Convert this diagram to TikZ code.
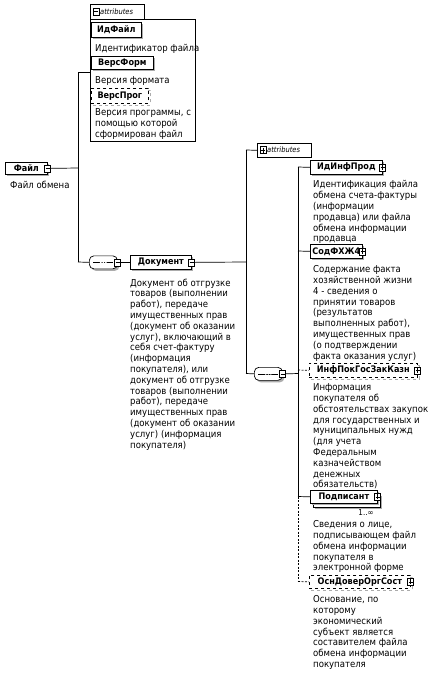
\documentclass[tikz,border=0pt]{standalone}
\usepackage{fontspec}
\setmainfont{DejaVu Sans Condensed}
\usetikzlibrary{shadows,shapes.misc}
\tikzset{
  shad/.style={drop shadow={shadow xshift=2pt, shadow yshift=-2pt, fill=gray!65, opacity=1}},
  dshad/.style={general shadow={shadow xshift=2pt, shadow yshift=-2pt, draw=gray!65, line width=1.6pt, dashed}},
  elbox/.style={draw, fill=white, inner sep=0pt, anchor=north west, line width=0.7pt,
    font=\fontsize{9}{10.8}\selectfont\bfseries, shad},
  optbox/.style={draw, dashed, fill=white, inner sep=0pt, anchor=north west, line width=0.7pt,
    font=\fontsize{9}{10.8}\selectfont\bfseries, dshad},
  desc/.style={anchor=north west, inner sep=0pt, align=left, font=\fontsize{9.5}{10.8}\selectfont},
  icon/.style={draw, fill=white, minimum width=6pt, minimum height=7pt, inner sep=0pt, line width=0.5pt},
  minusicon/.style={icon, path picture={\draw[line width=0.5pt]
     ([xshift=1pt]path picture bounding box.west) -- ([xshift=-1pt]path picture bounding box.east);}},
  plusicon/.style={icon, path picture={\draw[line width=0.5pt]
     ([xshift=1pt]path picture bounding box.west) -- ([xshift=-1pt]path picture bounding box.east)
     ([yshift=-1pt]path picture bounding box.north) -- ([yshift=1pt]path picture bounding box.south);}},
  seqbox/.style={rectangle, rounded corners=4.5pt,
    draw, fill=white, minimum width=28pt,
    minimum height=13pt, inner sep=0pt, line width=0.7pt, anchor=north west, shad,
    path picture={\draw[line width=0.6pt] ([xshift=4pt]path picture bounding box.west) -- ([xshift=-4pt]path picture bounding box.east);
      \fill (path picture bounding box.center) circle (0.9pt)
        ([xshift=-2.6pt]path picture bounding box.center) circle (0.9pt)
        ([xshift=2.6pt]path picture bounding box.center) circle (0.9pt);}},
  tabbox/.style={draw, fill=white, inner sep=0pt, anchor=north west, line width=0.6pt},
  tabtext/.style={anchor=west, inner sep=0pt, font=\fontsize{7.5}{9}\selectfont\itshape},
  conn/.style={line width=0.7pt},
  dconn/.style={line width=0.7pt, dashed, dash pattern=on 2pt off 1.5pt},
}
\begin{document}
\begin{tikzpicture}[x=1pt,y=-1pt]
\useasboundingbox[fill=white] (0,0) rectangle (430,678);

% ---- attributes of Файл
\node[tabbox, minimum width=105pt, minimum height=122pt] (attrbox1) at (90,19) {};
\node[tabbox, minimum width=54pt, minimum height=15pt] (attrtab1) at (90,4) {};
\node[minusicon] (attric1) at (96,11.5) {};
\node[tabtext] (attrtx1) at (100,11.5) {attributes};

\node[elbox, minimum width=50pt, minimum height=15pt] (idf) at (91,22) {ИдФайл};
\node[desc] (idfd) at (95,44.5) {Идентификатор файла};
\node[elbox, minimum width=62pt, minimum height=13pt] (vf) at (91,56) {ВерсФорм};
\node[desc] (vfd) at (95,76.5) {Версия формата};
\node[optbox, minimum width=57pt, minimum height=15pt] (vp) at (91,88) {ВерсПрог};
\node[desc] (vpd) at (95,108.5) {Версия программы, с\\помощью которой\\сформирован файл};

% ---- Файл
\node[elbox, minimum width=42pt, minimum height=12pt] (fil) at (5,162) {Файл};
\node[minusicon] (filic) at (fil.east) {};
\node[desc] (fild) at (10,180.5) {Файл обмена};

\coordinate (ja) at (78,72);
\coordinate (jf) at (78,168);
\coordinate (jb) at (78,262);
\draw[conn] (filic.east) -- (jf);
\draw[conn] (attrbox1.west |- ja) -- (ja) -- (jb);

% ---- sequence 1 and Документ
\node[seqbox] (seq1) at (89,255.5) {};
\node[minusicon] (seq1ic) at (seq1.east) {};
\draw[conn] (jb) -- (seq1.west);
\node[elbox, minimum width=61pt, minimum height=14pt] (doc) at (130,255) {Документ};
\node[minusicon] (docic) at (doc.east) {};
\draw[conn] (seq1ic.east) -- (doc.west);
\node[desc] (docd) at (130,278.5) {Документ об отгрузке\\товаров (выполнении\\работ), передаче\\имущественных прав\\(документ об оказании\\услуг), включающий в\\себя счет-фактуру\\(информация\\покупателя), или\\документ об отгрузке\\товаров (выполнении\\работ), передаче\\имущественных прав\\(документ об оказании\\услуг) (информация\\покупателя)};

\coordinate (jc) at (246,262);
\coordinate (jd) at (246,150);
\coordinate (je) at (246,373.5);
\draw[conn] (docic.east) -- (jc);
\draw[conn] (jd) -- (je);

% ---- attributes of Документ (collapsed)
\node[tabbox, minimum width=54pt, minimum height=14pt] (attrtab2) at (257,143) {};
\node[plusicon] (attric2) at (263,150) {};
\node[tabtext] (attrtx2) at (267,150) {attributes};
\draw[conn] (jd) -- (attrtab2.west);

% ---- sequence 2
\node[seqbox] (seq2) at (254,367) {};
\node[minusicon] (seq2ic) at (seq2.east) {};
\draw[conn] (je) -- (seq2.west);

\coordinate (k0) at (298,373.5);
\coordinate (k1) at (298,167);
\coordinate (k2) at (298,251);
\coordinate (k3) at (298,370);
\coordinate (k4) at (298,496.5);
\coordinate (k5) at (298,581.5);
\draw[conn] (seq2ic.east) -- (k0);
\draw[conn] (k1) -- (k4);
\draw[dconn] (k4) -- (k5);

% ---- children
\node[elbox, minimum width=72pt, minimum height=14pt] (iip) at (310,160) {ИдИнфПрод\hspace{4pt}};
\node[plusicon] (iipic) at (iip.east) {};
\draw[conn] (k1) -- (iip.west);
\node[desc] (iipd) at (313,180.5) {Идентификация файла\\обмена счета-фактуры\\(информации\\продавца) или файла\\обмена информации\\продавца};

\node[elbox, minimum width=52pt, minimum height=14pt] (sod) at (310,244) {СодФХЖ4\hspace{4pt}};
\node[plusicon] (sodic) at (sod.east) {};
\draw[conn] (k2) -- (sod.west);
\node[desc] (sodd) at (313,265.5) {Содержание факта\\хозяйственной жизни\\4 - сведения о\\принятии товаров\\(результатов\\выполненных работ),\\имущественных прав\\(о подтверждении\\факта оказания услуг)};

\node[optbox, minimum width=108pt, minimum height=14pt] (inf) at (309,363) {ИнфПокГосЗакКазн\hspace{4pt}};
\node[plusicon] (infic) at (inf.east) {};
\draw[dconn] (k3) -- (inf.west);
\node[desc] (infd) at (313,383.5) {Информация\\покупателя об\\обстоятельствах закупок\\для государственных и\\муниципальных нужд\\(для учета\\Федеральным\\казначейством\\денежных\\обязательств)};

\node[elbox, minimum width=67pt, minimum height=13pt] (podb) at (313,494) {};
\node[elbox, minimum width=67pt, minimum height=13pt] (pod) at (310,490) {Подписант\hspace{4pt}};
\node[plusicon] (podic) at (pod.east) {};
\draw[conn] (k4) -- (pod.west);
\node[anchor=center, inner sep=0pt, font=\fontsize{8}{9}\selectfont] (podm) at (366,513) {1..∞};
\node[desc] (podd) at (313,520.5) {Сведения о лице,\\подписывающем файл\\обмена информации\\покупателя в\\электронной форме};

\node[optbox, minimum width=101pt, minimum height=13pt] (osn) at (309,575) {ОснДоверОргСост\hspace{4pt}};
\node[plusicon] (osnic) at (osn.east) {};
\draw[dconn] (k5) -- (osn.west);
\node[desc] (osnd) at (313,595.5) {Основание, по\\которому\\экономический\\субъект является\\составителем файла\\обмена информации\\покупателя};
\end{tikzpicture}
\end{document}
